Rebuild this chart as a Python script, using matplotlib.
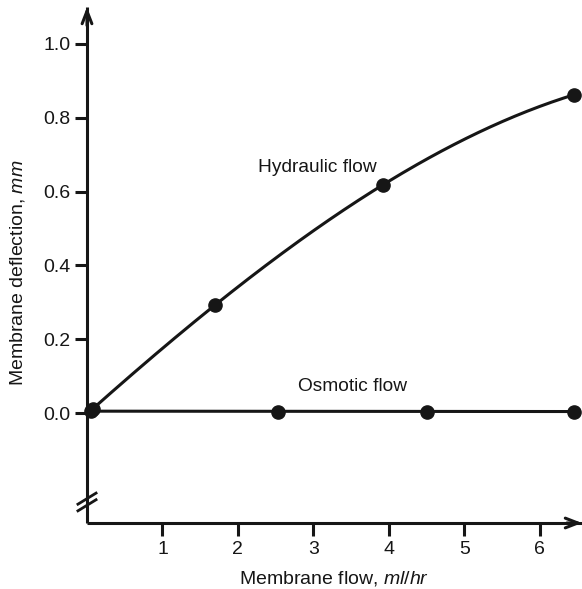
import numpy as np
import matplotlib
matplotlib.use("Agg")
import matplotlib.pyplot as plt

plt.rcParams['font.family'] = ['Liberation Sans', 'DejaVu Sans']
plt.rcParams['mathtext.fontset'] = 'custom'
plt.rcParams['mathtext.rm'] = 'Liberation Sans'
plt.rcParams['mathtext.it'] = 'Liberation Sans:italic'

# Data
hydraulic_x = [0.08, 1.70, 3.92, 6.45]
hydraulic_y = [0.012, 0.293, 0.618, 0.862]
osmotic_x = [0.05, 2.53, 4.50, 6.45]
osmotic_y = [0.005, 0.004, 0.003, 0.004]
x_ticks = [1, 2, 3, 4, 5, 6]
y_ticks = [0.0, 0.2, 0.4, 0.6, 0.8, 1.0]
y_ticklabels = ["0.0", "0.2", "0.4", "0.6", "0.8", "1.0"]

ink = "#161616"
W, H = 582, 589
fig = plt.figure(figsize=(W / 100, H / 100), dpi=100)
x0_px, y_bot_px, y_top_px = 87, 523, 7
xmax = 6.56
ymin, ymax = -0.298, 1.10
ax = fig.add_axes([x0_px / W, (H - y_bot_px) / H, (W - x0_px) / W, (y_bot_px - y_top_px) / H])
ax.set_xlim(0, xmax)
ax.set_ylim(ymin, ymax)
ax.patch.set_alpha(0)

for s in ['top', 'right']:
    ax.spines[s].set_visible(False)
for s in ['left', 'bottom']:
    ax.spines[s].set_linewidth(2.2)
    ax.spines[s].set_color(ink)
    ax.spines[s].set_capstyle('butt')

ax.set_xticks(x_ticks)
ax.set_xticklabels([str(t) for t in x_ticks])
ax.set_yticks(y_ticks)
ax.set_yticklabels(y_ticklabels)
ax.tick_params(axis='both', direction='out', length=9, width=2.2, color=ink,
               labelsize=14, labelcolor=ink)
ax.tick_params(axis='x', pad=4)
ax.tick_params(axis='y', pad=3)

# arrows on axes
ax.annotate('', xy=(0, ymax), xytext=(0, ymax - 0.05), xycoords='data',
            arrowprops=dict(arrowstyle='->,head_length=0.9,head_width=0.35', lw=2.2, color=ink,
                            shrinkA=0, shrinkB=0), annotation_clip=False)
ax.annotate('', xy=(xmax, ymin), xytext=(xmax - 0.2, ymin), xycoords='data',
            arrowprops=dict(arrowstyle='->,head_length=0.9,head_width=0.35', lw=2.2, color=ink,
                            shrinkA=0, shrinkB=0), annotation_clip=False)

# hydraulic smooth curve through points
coef = np.polyfit(hydraulic_x, hydraulic_y, 3)
xs = np.linspace(0, hydraulic_x[-1], 200)
ax.plot(xs, np.polyval(coef, xs), color=ink, lw=2.2, solid_capstyle='round', clip_on=False)
ax.plot(hydraulic_x, hydraulic_y, 'o', color=ink, ms=9.5, clip_on=False)

ax.plot([0, osmotic_x[-1]], [osmotic_y[0], osmotic_y[-1]], color=ink, lw=2.2, clip_on=False)
ax.plot(osmotic_x, osmotic_y, 'o', color=ink, ms=9.5, clip_on=False)

ax.text(3.05, 0.665, "Hydraulic flow", fontsize=13.8, color=ink, ha='center', va='center')
ax.text(3.52, 0.072, "Osmotic flow", fontsize=13.8, color=ink, ha='center', va='center')

# axis break marks
for dy in (0.0, 0.018):
    ax.plot([-0.12, 0.12], [-0.265 + dy, -0.235 + dy], color=ink, lw=2.0, clip_on=False)

fig.text(334 / W, 1 - 579 / H, r"Membrane flow, $\mathit{ml/hr}$", fontsize=14, color=ink,
         ha='center', va='center')
fig.text(18 / W, 1 - 273 / H, r"Membrane deflection, $\mathit{mm}$", fontsize=14, color=ink,
         ha='center', va='center', rotation=90)

fig.savefig("out.png", dpi=100, facecolor='white')
